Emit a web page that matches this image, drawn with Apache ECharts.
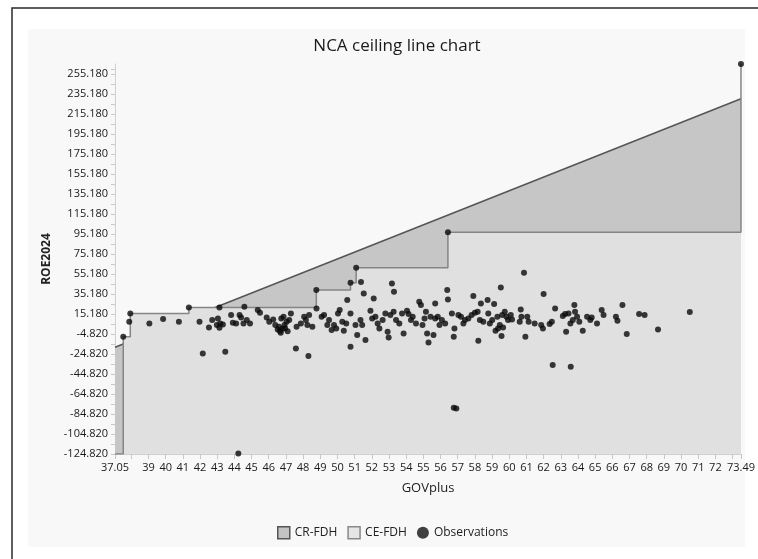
<!DOCTYPE html>
<html><head><meta charset="utf-8">
<script src="https://cdn.jsdelivr.net/npm/echarts@6/dist/echarts.min.js"></script>
<style>html,body{margin:0;padding:0;background:#fff}#c{width:758px;height:559px}</style>
</head><body><div id="c"></div>
<script>
// Axis ticks / labels
const xTicks = [37.05,38,39,40,41,42,43,44,45,46,47,48,49,50,51,52,53,54,55,56,57,58,59,60,61,62,63,64,65,66,67,68,69,70,71,72,73,73.49];
const xLabels = [37.05,39,40,41,42,43,44,45,46,47,48,49,50,51,52,53,54,55,56,57,58,59,60,61,62,63,64,65,66,67,68,69,70,71,72,73.49];
const yLabels = [-124.82,-104.82,-84.82,-64.82,-44.82,-24.82,-4.82,15.18,35.18,55.18,75.18,95.18,115.18,135.18,155.18,175.18,195.18,215.18,235.18,255.18];
const xMin = 37.05, xMax = 73.49, yMin = -124.82, yMax = 265.18;

// CR-FDH ceiling line (straight)
const crX = [37.05, 73.49];
const crY = [-18.0, 230.5];

// CE-FDH step ceiling (peers)
const ceX = [37.05, 37.53, 37.94, 41.35, 48.77, 50.76, 51.09, 56.43, 73.49];
const ceY = [-124.82, -7.5, 15.8, 21.8, 39.2, 46.5, 61.5, 97.0, 265.18];

// Observations
const obsX = [37.53,37.88,37.94,39.05,39.85,40.77,41.35,41.97,42.16,43.47,44.23,43.13,44.58,
42.52,42.71,42.98,43.04,43.18,43.33,43.13,43.81,43.91,44.10,44.30,44.39,44.53,44.72,44.91,45.36,45.49,45.88,46.03,46.26,46.38,46.52,46.65,46.73,46.86,46.92,47.04,47.19,47.29,
46.60,46.80,46.70,47.10,46.95,
47.58,47.62,47.87,48.06,48.16,48.25,48.35,48.54,48.31,48.78,48.77,49.08,49.22,49.41,49.51,49.66,49.80,49.93,50.03,50.13,50.28,50.37,50.51,50.57,50.76,50.76,50.76,51.09,51.37,
51.05,51.15,51.34,51.44,51.53,51.63,51.92,52.02,52.11,52.21,52.34,52.44,52.63,52.79,52.92,52.98,53.17,53.29,53.08,53.27,53.41,53.60,53.76,53.85,54.05,54.14,54.28,54.38,54.57,
54.76,54.86,54.95,55.07,55.15,55.22,55.30,55.42,55.59,55.69,55.69,55.84,55.94,56.08,56.27,56.39,56.43,56.43,56.66,56.77,56.81,
57.04,57.19,57.33,57.42,57.62,57.81,57.91,58.00,58.16,58.20,58.29,58.35,58.49,58.74,58.78,58.87,59.01,59.12,59.20,59.31,59.35,59.45,59.51,59.55,59.59,59.64,59.74,59.84,59.93,60.09,60.16,
60.67,60.71,60.61,60.94,60.86,61.05,61.13,61.48,61.86,62.00,61.96,62.35,62.48,62.67,63.12,63.25,63.31,63.45,63.56,63.70,63.79,63.83,63.95,64.08,64.28,64.53,64.72,64.80,65.11,65.38,65.49,
66.21,66.30,66.59,66.84,67.56,67.88,68.66,70.51,
62.53,63.58,56.77,56.92,73.49];
const obsY = [-7.5,7.5,15.8,5.8,10.2,7.5,21.8,7.5,-24.2,-22.5,-124.2,21.8,22.5,
1.8,9.2,4.2,10.8,5.8,4.8,1.5,14.2,6.5,5.8,14.2,11.8,5.8,9.2,5.8,19.2,16.5,11.8,7.5,9.8,4.2,-0.2,-1.8,10.8,12.5,4.2,7.5,9.2,15.8,
2.5,0.5,-3.5,-2.0,1.0,
-19.2,2.5,5.8,12.5,9.2,4.2,14.2,2.5,-26.8,20.8,39.2,12.5,14.2,4.2,9.2,-0.8,4.2,0.8,15.8,19.2,7.5,-1.5,5.8,29.2,15.8,-17.5,46.5,61.5,47.2,
4.2,-5.8,9.2,4.2,35.8,-10.8,18.5,10.8,30.8,12.5,5.8,0.8,9.2,15.8,-2.5,-8.2,45.8,37.5,14.2,17.5,9.2,5.8,15.8,-4.2,18.5,15.2,9.2,12.5,5.8,
27.5,24.2,4.2,10.8,17.5,-4.2,-13.2,12.5,-5.8,25.8,10.8,12.5,4.2,9.2,5.8,39.2,29.8,97.0,15.8,-7.5,0.8,
14.2,12.5,5.8,9.2,10.8,14.2,33.2,16.5,17.5,-11.5,9.2,25.8,7.5,29.2,15.8,5.8,9.2,25.2,-1.5,12.5,0.8,4.2,41.8,-6.8,14.2,1.8,17.5,12.5,9.2,14.2,9.8,
19.8,12.5,7.5,-7.5,56.5,12.5,7.5,5.8,4.2,35.2,0.8,5.2,7.5,20.8,13.2,15.2,-2.5,15.8,5.8,9.2,24.2,17.5,12.5,7.5,-1.5,12.5,9.2,11.8,5.8,19.2,14.2,
12.5,8.5,24.2,-4.8,15.2,14.2,-0.2,17.2,
-35.8,-37.5,-78.5,-79.2,265.18];

const pair = (xs, ys) => xs.map((x, i) => [x, ys[i]]);
const yMinor = [];
for (let i = 0; i < yLabels.length; i++) { yMinor.push(yLabels[i]); if (i < yLabels.length - 1) yMinor.push((yLabels[i] + yLabels[i+1]) / 2); }
yMinor.push((yLabels[yLabels.length-1] + yMax) / 2);

const FONT = 'Open Sans';
const chart = echarts.init(document.getElementById('c'), null, {renderer: 'canvas'});
chart.setOption({
  backgroundColor: '#ffffff',
  animation: false,
  graphic: [
    {type: 'rect', z: -10, shape: {x: 28, y: 29, width: 717, height: 518}, style: {fill: '#f8f8f8'}},
    {type: 'rect', z: 100, shape: {x: 12, y: 8, width: 800, height: 600}, style: {fill: 'none', stroke: '#2a2a2a', lineWidth: 1.5}}
  ],
  title: {
    text: 'NCA ceiling line chart', left: 392, top: 33, textAlign: 'center',
    textStyle: {fontFamily: FONT, fontSize: 17, fontWeight: 'normal', color: '#1a1a1a'}
  },
  legend: {
    left: 272, top: 521, itemWidth: 12, itemHeight: 12, itemGap: 10,
    textStyle: {fontFamily: FONT, fontSize: 12, color: '#222'},
    data: [
      {name: 'CR-FDH', icon: 'rect', itemStyle: {color: '#c3c3c3', borderColor: '#555', borderWidth: 1.5}},
      {name: 'CE-FDH', icon: 'rect', itemStyle: {color: '#e6e6e6', borderColor: '#888', borderWidth: 1.5}},
      {name: 'Observations', icon: 'circle', itemStyle: {color: '#111'}}
    ]
  },
  grid: {left: 115, right: 14, top: 64, bottom: 105},
  xAxis: {
    type: 'value', min: xMin, max: xMax,
    name: 'GOVplus', nameLocation: 'middle', nameGap: 28,
    nameTextStyle: {fontFamily: FONT, fontSize: 13, color: '#222'},
    axisLine: {show: true, onZero: false, lineStyle: {color: '#d0d0d0'}},
    axisTick: {show: true, length: 5, lineStyle: {color: '#c8c8c8'}, customValues: xTicks},
    axisLabel: {customValues: xLabels, fontFamily: FONT, fontSize: 11, color: '#1a1a1a', margin: 8,
      formatter: v => String(v)},
    splitLine: {show: false}
  },
  yAxis: {
    type: 'value', min: yMin, max: yMax,
    name: 'ROE2024', nameLocation: 'middle', nameGap: 61,
    nameTextStyle: {fontFamily: FONT, fontSize: 12, color: '#222', fontWeight: 'bold'},
    axisLine: {show: true, onZero: false, lineStyle: {color: '#d0d0d0'}},
    axisTick: {show: true, length: 4, lineStyle: {color: '#c8c8c8'}, customValues: yMinor},
    axisLabel: {customValues: yLabels, fontFamily: FONT, fontSize: 11, color: '#1a1a1a', margin: 7,
      formatter: v => v.toFixed(3)},
    splitLine: {show: false}
  },
  series: [
    {
      name: 'CR-FDH', type: 'line', z: 2, data: pair(crX, crY), symbol: 'none',
      lineStyle: {color: '#555', width: 1.5},
      areaStyle: {color: '#c6c6c6', opacity: 1, origin: 'start'},
      itemStyle: {color: '#c3c3c3'}
    },
    {
      name: 'CE-FDH', type: 'line', z: 3, step: 'end', data: pair(ceX, ceY), symbol: 'none',
      lineStyle: {color: '#858585', width: 1.5},
      areaStyle: {color: '#e0e0e0', opacity: 1, origin: 'start'},
      itemStyle: {color: '#e6e6e6'}
    },
    {
      name: 'Observations', type: 'scatter', z: 5, data: pair(obsX, obsY), symbolSize: 6,
      itemStyle: {color: '#0a0a0a'}
    }
  ]
});
</script></body></html>
